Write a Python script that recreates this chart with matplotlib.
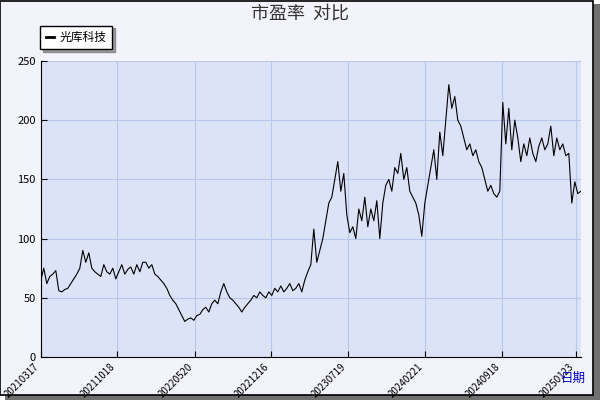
import matplotlib
matplotlib.use("Agg")
import matplotlib.pyplot as plt
from matplotlib.patches import Rectangle

plt.rcParams['font.family'] = ['Noto Sans CJK SC', 'DejaVu Sans']

# PE ratio, sampled roughly evenly over the period
pe = [65, 75, 62, 68, 70, 73, 56, 55, 57, 58,
      62, 66, 70, 75, 90, 80, 88, 75, 72, 70,
      68, 78, 72, 70, 75, 66, 72, 78, 70, 74,
      76, 70, 78, 72, 80, 80, 75, 78, 70, 68,
      65, 62, 58, 52, 48, 45, 40, 35, 30, 32,
      33, 31, 35, 36, 40, 42, 38, 45, 48, 45,
      55, 62, 55, 50, 48, 45, 42, 38, 42, 45,
      48, 52, 50, 55, 52, 50, 55, 52, 58, 55,
      60, 55, 58, 62, 56, 58, 62, 55, 65, 72,
      78, 108, 80, 90, 100, 115, 130, 135, 150, 165,
      140, 155, 120, 105, 110, 100, 125, 115, 135, 110,
      125, 115, 132, 100, 130, 145, 150, 140, 160, 155,
      172, 150, 160, 140, 135, 130, 120, 102, 130, 145,
      160, 175, 150, 190, 170, 200, 230, 210, 220, 200,
      195, 185, 175, 180, 170, 175, 165, 160, 150, 140,
      145, 138, 135, 140, 215, 180, 210, 175, 200, 185,
      165, 180, 170, 185, 172, 165, 178, 185, 175, 180,
      195, 170, 185, 175, 180, 170, 172, 130, 148, 138, 140]
tick_pos = [0, 25.3, 51.3, 76.7, 102.3, 128, 153.7, 178.3]
tick_labels = ["20210317", "20211018", "20220520", "20221216",
               "20230719", "20240221", "20240918", "20250123"]

fig = plt.figure(figsize=(6, 4), dpi=100)
fig.patch.set_facecolor("white")
# shadowed frame
fig.add_artist(Rectangle((0.008, 0.0), 0.992, 0.99, transform=fig.transFigure,
                         facecolor="#707070", edgecolor="none", zorder=-3))
fig.add_artist(Rectangle((0.0, 0.012), 0.988, 0.986, transform=fig.transFigure,
                         facecolor="#f2f3fb", edgecolor="black", lw=1.2, zorder=-2))

ax = fig.add_axes([0.068, 0.1075, 0.9, 0.74])
ax.set_facecolor("#dde3f6")
ax.plot(range(len(pe)), pe, color="black", lw=0.8, label="光库科技")
ax.set_xlim(0, 180)
ax.set_ylim(0, 250)
ax.set_yticks([0, 50, 100, 150, 200, 250])
ax.set_xticks(tick_pos)
ax.set_xticklabels(tick_labels, rotation=45, ha="right", fontsize=7)
ax.tick_params(axis="y", labelsize=8, length=4, direction="in")
ax.tick_params(axis="x", length=4, direction="in")
ax.grid(color="#b8c8ec", lw=0.8)
for s in ["top", "right"]:
    ax.spines[s].set_visible(False)

fig.text(0.5, 0.965, "市盈率  对比", ha="center", va="center", fontsize=13, color="#333333")
fig.text(0.955, 0.055, "日期", ha="center", va="center", fontsize=9, color="#0000cc")
leg = ax.legend(loc="lower left", bbox_to_anchor=(-0.012, 1.02), fontsize=8.5,
                fancybox=False, framealpha=1, edgecolor="black", shadow=True,
                handlelength=0.7, handletextpad=0.5, borderpad=0.45)
for h in leg.get_lines():
    h.set_linewidth(2)
fig.savefig("out.png", dpi=100)
